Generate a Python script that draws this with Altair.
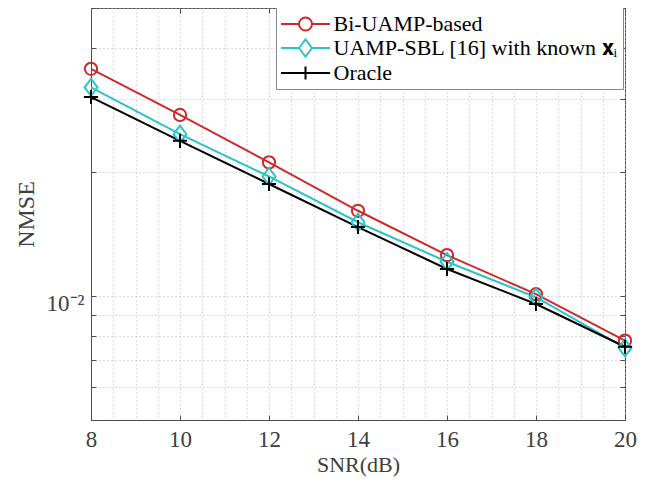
import math
import altair as alt
import pandas as pd

snr = [8, 10, 12, 14, 16, 18, 20]
bi_uamp = [0.0356, 0.0275, 0.0211, 0.0161, 0.01257, 0.01010, 0.00779]
uamp_sbl = [0.0321, 0.0247, 0.0195, 0.0151, 0.01211, 0.00993, 0.00748]
oracle = [0.0304, 0.0238, 0.0187, 0.0147, 0.01163, 0.00956, 0.00753]

series_names = ["Bi-UAMP-based", "UAMP-SBL [16] with known 𝐱ᵢ", "Oracle"]
series_colors = ["#cf2a2a", "#2cc3c8", "#000000"]

x_major = [8, 10, 12, 14, 16, 18, 20]
x_grid = [8 + 0.5 * i for i in range(25)]
y_grid = [0.005, 0.006, 0.007, 0.008, 0.009, 0.01, 0.02, 0.03, 0.04, 0.05]

rows = []
for name, vals in zip(series_names, [bi_uamp, uamp_sbl, oracle]):
    for s, v in zip(snr, vals):
        rows.append({"snr": s, "nmse": v, "series": name})
df = pd.DataFrame(rows)

FONT = "Liberation Serif"
TXT = "#404040"
AXC = "#4d4d4d"

# marker shapes (unit paths)
circle_path = "circle"
diamond_path = "M-0.76,0L0,-1L0.76,0L0,1Z"
plus_path = "M-1,0L1,0M0,-1L0,1"
marker_shapes = [circle_path, diamond_path, plus_path]
marker_sizes = [150, 290, 200]

# legend symbols with line through marker
LEG_SIZE = 484
u = math.sqrt(LEG_SIZE) / 2.0
def f(v):
    return f"{v / u:.3f}"
half = 24.5
leg_circle = (f"M{f(-half)},0L{f(-6.5)},0M{f(6.5)},0L{f(half)},0"
              f"M{f(-6.5)},0A{f(6.5)},{f(6.5)} 0 1,1 {f(6.5)},0A{f(6.5)},{f(6.5)} 0 1,1 {f(-6.5)},0")
leg_diamond = (f"M{f(-half)},0L{f(-6.5)},0M{f(6.5)},0L{f(half)},0"
               f"M{f(-6.5)},0L0,{f(-8.5)}L{f(6.5)},0L0,{f(8.5)}Z")
leg_plus = f"M{f(-half)},0L{f(half)},0M0,{f(-6.5)}L0,{f(6.5)}"

x_scale = alt.Scale(domain=[8, 20], nice=False, zero=False)
y_scale = alt.Scale(type="log", domain=[0.005, 0.05], nice=False)

def tick_axis(orient, values):
    return alt.Axis(orient=orient, values=values, offset=-5, tickSize=5, tickColor=AXC,
                    tickWidth=1, domain=False, labels=False, grid=False, title=None)

main_x = alt.Axis(values=x_grid,
                  labelExpr="datum.value % 2 == 0 ? format(datum.value, 'd') : ''",
                  grid=True, gridDash=[1, 3], gridColor="#b8b8b8", orient="bottom",
                  ticks=False, labelPadding=8, titlePadding=3,
                  labelFlush=False, labelOverlap=False)
main_y = alt.Axis(values=y_grid, labelExpr="datum.value == 0.01 ? '10⁻²' : ''",
                  grid=True, gridDash=[1, 3], gridColor="#b8b8b8", orient="left",
                  ticks=False, labelPadding=7, labelBaseline="top", labelOffset=-3,
                  labelFlush=False, labelOverlap=False,
                  titlePadding=8, titleFontSize=24)

x_axes = [main_x, tick_axis("bottom", x_major), tick_axis("top", x_major)]
y_axes = [main_y, tick_axis("left", y_grid), tick_axis("right", y_grid)]

layers = []
for i, (name, col) in enumerate(zip(series_names, series_colors)):
    sub = df[df.series == name]
    x_enc = alt.X("snr:Q", scale=x_scale, title="SNR(dB)" if i == 0 else None, axis=x_axes[i])
    y_enc = alt.Y("nmse:Q", scale=y_scale, title="NMSE" if i == 0 else None, axis=y_axes[i])
    layers.append(alt.Chart(sub).mark_line(color=col, strokeWidth=2).encode(x=x_enc, y=y_enc))

for i, (name, col) in enumerate(zip(series_names, series_colors)):
    sub = df[df.series == name]
    layers.append(
        alt.Chart(sub).mark_point(shape=marker_shapes[i], size=marker_sizes[i], color=col,
                                  filled=False, strokeWidth=2, opacity=1)
        .encode(x=alt.X("snr:Q", scale=x_scale, axis=None),
                y=alt.Y("nmse:Q", scale=y_scale, axis=None))
    )

legend_layer = (
    alt.Chart(df).transform_filter("false")
    .mark_point(filled=False, strokeWidth=2, opacity=1)
    .encode(
        x=alt.X("snr:Q", scale=x_scale, axis=None),
        y=alt.Y("nmse:Q", scale=y_scale, axis=None),
        color=alt.Color("series:N", scale=alt.Scale(domain=series_names, range=series_colors),
                        legend=alt.Legend(title=None)),
        shape=alt.Shape("series:N", scale=alt.Scale(domain=series_names,
                                                   range=[leg_circle, leg_diamond, leg_plus]),
                        legend=alt.Legend(title=None)),
    )
)
layers.append(legend_layer)

chart = (
    alt.layer(*layers)
    .resolve_axis(x="independent", y="independent")
    .properties(width=534, height=412, autosize=alt.AutoSizeParams(type="none"),
                padding={"left": 83, "top": 0, "right": 20, "bottom": 59})
    .configure_view(stroke=AXC, strokeWidth=1)
    .configure_axis(labelFont=FONT, titleFont=FONT, labelFontSize=23, titleFontSize=22,
                    labelColor=TXT, titleColor=TXT, titleFontWeight="normal",
                    domainColor=AXC, domainWidth=1)
    .configure_legend(orient="none", legendX=185, legendY=-1, padding=5,
                      strokeColor="#888888", fillColor="white",
                      labelFont=FONT, labelFontSize=22, labelColor="#000000",
                      symbolSize=LEG_SIZE, symbolStrokeWidth=2, symbolOffset=12.5,
                      labelOffset=16, rowPadding=0, symbolFillColor="white",
                      labelLimit=400)
)

chart.save("out.html", embed_options={"renderer": "svg", "actions": False})
